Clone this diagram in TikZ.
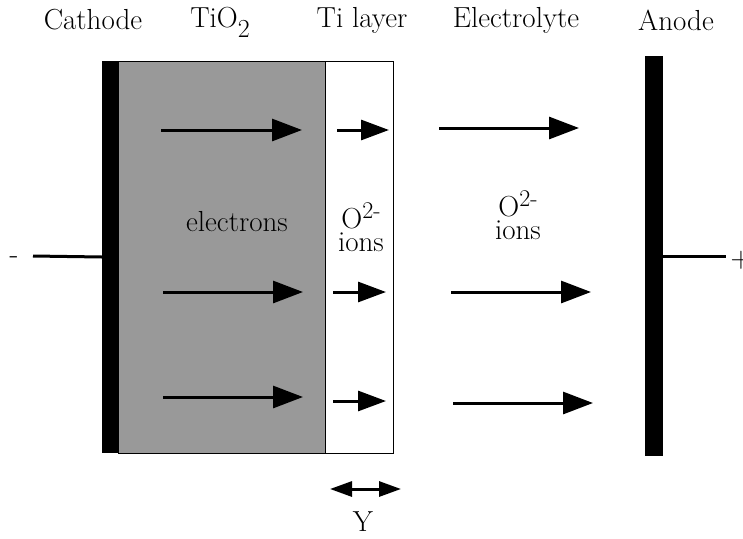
\documentclass[tikz,border=0pt]{standalone}
\usetikzlibrary{arrows.meta}
\begin{document}
\begin{tikzpicture}[x=1pt,y=-1pt,
  lbl/.style={inner sep=0pt,font=\fontsize{29}{33}\selectfont},
  flow/.style={line width=3pt,-{Triangle[length=30pt,width=22pt]}},
  small/.style={line width=3pt,-{Triangle[length=28pt,width=20pt]}},
  wire/.style={line width=3pt},
  bar/.style={fill=black,draw=none}]
\useasboundingbox (0,0) rectangle (743,538);
% layers
\node[bar,minimum width=16pt,minimum height=392pt,inner sep=0pt,anchor=north west] (cath) at (102,61) {};
\node[fill=black!40,draw=black,line width=1pt,minimum width=207pt,minimum height=392pt,inner sep=0pt,anchor=north west] (tio) at (118,61) {};
\node[fill=white,draw=black,line width=1pt,minimum width=68pt,minimum height=392pt,inner sep=0pt,anchor=north west] (ti) at (325,61) {};
\node[bar,minimum width=18pt,minimum height=400pt,inner sep=0pt,anchor=north west] (anode) at (645,56) {};
% headings
\node[lbl] (hc) at (93,20) {Cathode};
\node[lbl] (ht) at (220,22) {TiO\raisebox{-10pt}{\fontsize{26}{28}\selectfont 2}};
\node[lbl] (hti) at (362,20) {Ti layer};
\node[lbl] (he) at (516,20) {Electrolyte};
\node[lbl] (ha) at (676,20) {Anode};
% inner labels
\node[lbl] (el) at (237,222) {electrons};
\node[lbl] (o1) at (361,216) {O\raisebox{10pt}{\fontsize{24}{26}\selectfont 2-}};
\node[lbl] (i1) at (361,242) {ions};
\node[lbl] (o2) at (518,204) {O\raisebox{10pt}{\fontsize{24}{26}\selectfont 2-}};
\node[lbl] (i2) at (518,230) {ions};
% wires
\coordinate (wl) at (33,256);
\coordinate (wlc) at (102,257);
\coordinate (wr) at (726,256);
\coordinate (wrc) at (663,256);
\draw[wire] (wl) -- (wlc);
\draw[wire] (wrc) -- (wr);
\node[lbl] (minus) at (14,260) {-};
\node[lbl] (plus) at (741,260) {+};
% arrows row 1
\coordinate (a1s) at (161,130); \coordinate (a1e) at (302,130);
\coordinate (b1s) at (337,130); \coordinate (b1e) at (389,130);
\coordinate (c1s) at (439,128); \coordinate (c1e) at (579,128);
\draw[flow] (a1s) -- (a1e);
\draw[small] (b1s) -- (b1e);
\draw[flow] (c1s) -- (c1e);
% row 2
\coordinate (a2s) at (163,292); \coordinate (a2e) at (303,292);
\coordinate (b2s) at (333,292); \coordinate (b2e) at (386,292);
\coordinate (c2s) at (451,292); \coordinate (c2e) at (591,292);
\draw[flow] (a2s) -- (a2e);
\draw[small] (b2s) -- (b2e);
\draw[flow] (c2s) -- (c2e);
% row 3
\coordinate (a3s) at (163,397); \coordinate (a3e) at (303,397);
\coordinate (b3s) at (333,401); \coordinate (b3e) at (386,401);
\coordinate (c3s) at (453,403); \coordinate (c3e) at (593,403);
\draw[flow] (a3s) -- (a3e);
\draw[small] (b3s) -- (b3e);
\draw[flow] (c3s) -- (c3e);
% Y dimension
\coordinate (ys) at (330,489); \coordinate (ye) at (401,489);
\draw[line width=3pt,{Triangle[length=22pt,width=15pt]}-{Triangle[length=22pt,width=15pt]}] (ys) -- (ye);
\node[lbl] (y) at (363,522) {Y};
\end{tikzpicture}
\end{document}
